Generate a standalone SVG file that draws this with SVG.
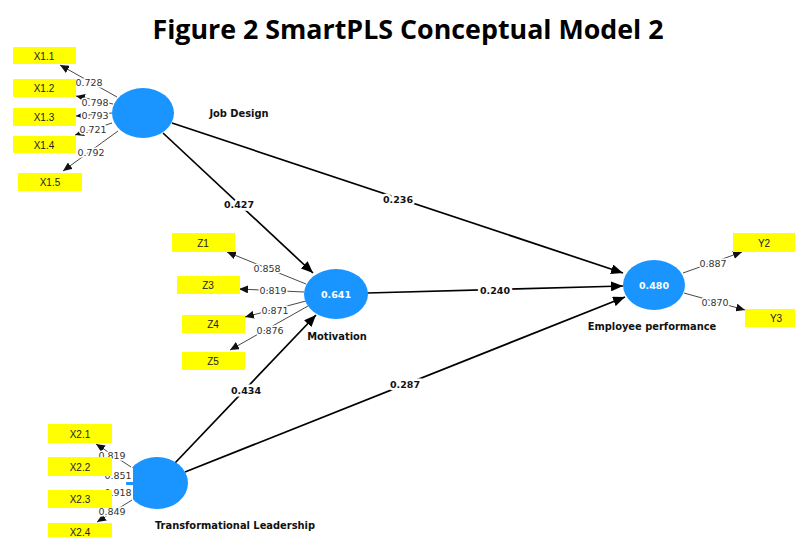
<svg xmlns="http://www.w3.org/2000/svg" width="795" height="537" viewBox="0 0 795 537">
<style>
.title{font-family:"Open Sans","DejaVu Sans",sans-serif;font-weight:bold;font-size:26.8px;fill:#000}
.ind{fill:#ffff00}
.indt{font-family:"Liberation Sans",Arial,sans-serif;font-size:10px;fill:#222;text-anchor:middle;dominant-baseline:central}
.lv{fill:#1a94ff}
.lvt{font-family:"DejaVu Sans",Verdana,sans-serif;font-size:9.5px;font-weight:bold;fill:#fff;text-anchor:middle;dominant-baseline:central}
.name{font-family:"DejaVu Sans",Verdana,sans-serif;font-size:9.9px;font-weight:bold;fill:#111;text-anchor:middle;dominant-baseline:central}
.main{stroke:#000;stroke-width:1.7;fill:none;marker-end:url(#big)}
.load{stroke:#333;stroke-width:0.9;fill:none;marker-end:url(#small)}
.pl{font-family:"DejaVu Sans",Verdana,sans-serif;font-size:9.5px;font-weight:bold;fill:#111;text-anchor:middle;dominant-baseline:central;stroke:#fff;stroke-width:5;paint-order:stroke}
.ll{font-family:"DejaVu Sans",Verdana,sans-serif;font-size:9.5px;fill:#333;text-anchor:middle;dominant-baseline:central;stroke:#fff;stroke-width:3;paint-order:stroke}
</style>
<defs>
<marker id="big" markerUnits="userSpaceOnUse" markerWidth="12" markerHeight="10" refX="12" refY="5" orient="auto"><path d="M0,0 L12,5 L0,10 z" fill="#000"/></marker>
<marker id="small" markerUnits="userSpaceOnUse" markerWidth="9" markerHeight="8" refX="9" refY="4" orient="auto"><path d="M0,0 L9,4 L0,8 z" fill="#111"/></marker>
</defs>
<rect width="795" height="537" fill="#fff"/>
<text class="title" x="408" y="39" text-anchor="middle">Figure 2 SmartPLS Conceptual Model 2</text>

<g id="connectors">
<line class="main" x1="163" y1="133" x2="313" y2="273"/>
<line class="main" x1="172" y1="123" x2="623" y2="273"/>
<line class="main" x1="367" y1="293" x2="623" y2="286"/>
<line class="main" x1="175" y1="463" x2="316" y2="315"/>
<line class="main" x1="185" y1="472" x2="625" y2="297"/>
<text class="pl" x="239" y="204">0.427</text>
<text class="pl" x="398" y="199">0.236</text>
<text class="pl" x="495" y="290">0.240</text>
<text class="pl" x="246" y="390">0.434</text>
<text class="pl" x="405" y="384">0.287</text>

<line class="load" x1="117" y1="97" x2="60" y2="65"/>
<line class="load" x1="113" y1="104" x2="76" y2="96"/>
<line class="load" x1="112" y1="113" x2="76" y2="116"/>
<line class="load" x1="112" y1="123" x2="75" y2="135"/>
<line class="load" x1="118" y1="131" x2="63" y2="171"/>
<line class="load" x1="306" y1="284" x2="227" y2="252"/>
<line class="load" x1="304" y1="292" x2="239" y2="289"/>
<line class="load" x1="306" y1="301" x2="245" y2="317"/>
<line class="load" x1="308" y1="306" x2="230" y2="350"/>
<line class="load" x1="683" y1="273" x2="742" y2="252"/>
<line class="load" x1="684" y1="293" x2="745" y2="310"/>
<line class="load" x1="131" y1="467" x2="96" y2="444"/>
<line class="load" x1="132" y1="500" x2="97" y2="522"/>
</g>

<g id="job-design">
<ellipse class="lv" cx="143" cy="113" rx="31" ry="25"/>
<text class="name" x="239" y="113">Job Design</text>
</g>
<g id="motivation">
<ellipse class="lv" cx="336" cy="294" rx="32" ry="25"/>
<text class="lvt" x="336" y="294">0.641</text>
<text class="name" x="337" y="336">Motivation</text>
</g>
<g id="employee-performance">
<ellipse class="lv" cx="654" cy="285" rx="31" ry="25"/>
<text class="lvt" x="654" y="285">0.480</text>
<text class="name" x="652" y="326">Employee performance</text>
</g>
<g id="transformational-leadership">
<ellipse class="lv" cx="157" cy="483" rx="31" ry="26"/>
<text class="name" x="235" y="525">Transformational Leadership</text>
</g>

<g id="loading-labels">
<text class="ll" x="89" y="82">0.728</text>
<text class="ll" x="95" y="102">0.798</text>
<text class="ll" x="95" y="115">0.793</text>
<text class="ll" x="93" y="129">0.721</text>
<text class="ll" x="91" y="152">0.792</text>
<text class="ll" x="267" y="268">0.858</text>
<text class="ll" x="273" y="290">0.819</text>
<text class="ll" x="275" y="310">0.871</text>
<text class="ll" x="270" y="330">0.876</text>
<text class="ll" x="713" y="263">0.887</text>
<text class="ll" x="715" y="302">0.870</text>
<text class="ll" x="112" y="455">0.819</text>
<rect x="104" y="468" width="29" height="14" fill="#fff"/>
<text class="ll" x="118" y="475">0.851</text>
<rect x="104" y="485" width="29" height="14" fill="#fff"/>
<text class="ll" x="118" y="492">0.918</text>
<text class="ll" x="112" y="511">0.849</text>
</g>

<g id="X1.1"><rect class="ind" x="13" y="47" width="63" height="17"/><text class="indt" x="44" y="56">X1.1</text></g>
<g id="X1.2"><rect class="ind" x="13" y="79" width="63" height="18"/><text class="indt" x="44" y="88">X1.2</text></g>
<g id="X1.3"><rect class="ind" x="13" y="108" width="63" height="18"/><text class="indt" x="44" y="117">X1.3</text></g>
<g id="X1.4"><rect class="ind" x="13" y="136" width="63" height="17"/><text class="indt" x="44" y="145">X1.4</text></g>
<g id="X1.5"><rect class="ind" x="18" y="173" width="64" height="18"/><text class="indt" x="50" y="182">X1.5</text></g>
<g id="Z1"><rect class="ind" x="172" y="233" width="63" height="19"/><text class="indt" x="203" y="243">Z1</text></g>
<g id="Z3"><rect class="ind" x="177" y="276" width="63" height="18"/><text class="indt" x="208" y="285">Z3</text></g>
<g id="Z4"><rect class="ind" x="182" y="315" width="63" height="18"/><text class="indt" x="213" y="324">Z4</text></g>
<g id="Z5"><rect class="ind" x="182" y="352" width="63" height="18"/><text class="indt" x="213" y="361">Z5</text></g>
<g id="Y2"><rect class="ind" x="733" y="233" width="62" height="19"/><text class="indt" x="764" y="243">Y2</text></g>
<g id="Y3"><rect class="ind" x="745" y="309" width="50" height="18"/><text class="indt" x="776" y="318">Y3</text></g>
<g id="X2.1"><rect class="ind" x="48" y="424" width="64" height="19"/><text class="indt" x="80" y="434">X2.1</text></g>
<g id="X2.2"><rect class="ind" x="48" y="457" width="64" height="19"/><text class="indt" x="80" y="467">X2.2</text></g>
<g id="X2.3"><rect class="ind" x="48" y="490" width="64" height="18"/><text class="indt" x="80" y="499">X2.3</text></g>
<g id="X2.4"><rect class="ind" x="48" y="523" width="64" height="18"/><text class="indt" x="80" y="532">X2.4</text></g>
</svg>
